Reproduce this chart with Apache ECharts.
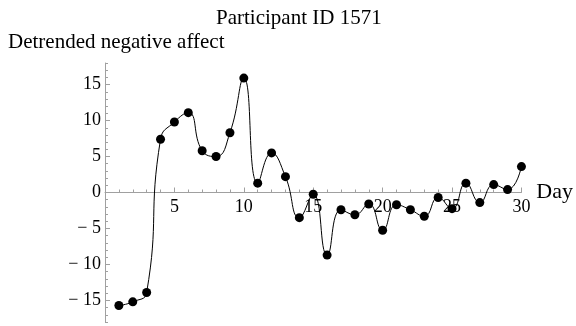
<!DOCTYPE html>
<html>
<head>
<meta charset="utf-8">
<script src="https://cdn.jsdelivr.net/npm/echarts@6/dist/echarts.min.js"></script>
<style>
  html, body { margin: 0; padding: 0; background: #fff; }
  #chart { width: 576px; height: 326px; }
</style>
</head>
<body>
<div id="chart"></div>
<script>
// Daily detrended negative affect for one participant
const days = [1,2,3,4,5,6,7,8,9,10,11,12,13,14,15,16,17,18,19,20,21,22,23,24,25,26,27,28,29,30];
const affect = [-15.7,-15.2,-13.9,7.4,9.8,11.1,5.8,5.0,8.3,15.9,1.3,5.5,2.2,-3.5,-0.25,-8.7,-2.4,-3.1,-1.6,-5.25,-1.7,-2.4,-3.3,-0.7,-2.25,1.3,-1.4,1.1,0.4,3.6];
const xTicks = [5,10,15,20,25,30];
const yTicks = [-15,-10,-5,0,5,10,15];

const serif = 'Liberation Serif, Times New Roman, serif';
const axisGray = '#a0a0a0';

const gridTop = 63, gridBottomPx = 322;         // plot box in pixels
const yMin = -18, yMax = 18;
// shift the x axis up from the bottom edge onto y = 0
const zeroShift = -(gridBottomPx - gridTop) * (0 - yMin) / (yMax - yMin);

const chart = echarts.init(document.getElementById('chart'), null, { renderer: 'canvas' });

const labelFont = { fontFamily: serif, fontSize: 18, color: '#000' };

chart.setOption({
  animation: false,
  backgroundColor: '#fff',
  title: [
    { text: 'Participant ID 1571', left: 211, top: 3,
      textStyle: { fontFamily: serif, fontWeight: 'normal', fontSize: 21, color: '#000' } },
    { text: 'Detrended negative affect', left: 3, top: 27,
      textStyle: { fontFamily: serif, fontWeight: 'normal', fontSize: 21, color: '#000' } }
  ],
  grid: { left: 105, right: 53, top: gridTop, bottom: 326 - gridBottomPx, containLabel: false },
  xAxis: [{
    type: 'value', min: 0, max: 30, interval: 5,
    position: 'bottom', offset: zeroShift,
    name: 'Day', nameLocation: 'end', nameGap: 12,
    nameTextStyle: { fontFamily: serif, fontSize: 22, color: '#000', verticalAlign: 'middle' },
    axisLine: { onZero: false, lineStyle: { color: axisGray, width: 1 } },
    axisTick: { inside: true, length: 5, lineStyle: { color: axisGray } },
    minorTick: { show: true, splitNumber: 5, length: 3, lineStyle: { color: axisGray } },
    splitLine: { show: false },
    axisLabel: Object.assign({ margin: 6, customValues: xTicks }, labelFont)
  }],
  yAxis: [{
    type: 'value', min: yMin, max: yMax, interval: 1,
    axisLine: { show: true, onZero: false, lineStyle: { color: axisGray, width: 1 } },
    axisTick: { inside: true, length: 3, lineStyle: { color: axisGray } },
    splitLine: { show: false },
    axisLabel: Object.assign({
      margin: 4, customValues: yTicks,
      formatter: v => v < 0 ? '\u2212 ' + Math.abs(v) : String(v)
    }, labelFont)
  }, {
    // longer ticks at the labelled values
    type: 'value', min: yMin, max: yMax, position: 'left',
    axisLine: { show: false },
    axisTick: { show: true, inside: true, length: 5, customValues: yTicks, lineStyle: { color: axisGray } },
    axisLabel: { show: false },
    splitLine: { show: false }
  }],
  series: [{
    type: 'line',
    data: days.map((d, i) => [d, affect[i]]),
    smooth: 0.5,
    symbol: 'circle', symbolSize: 9,
    itemStyle: { color: '#000' },
    lineStyle: { color: '#000', width: 1 }
  }]
});
</script>
</body>
</html>
